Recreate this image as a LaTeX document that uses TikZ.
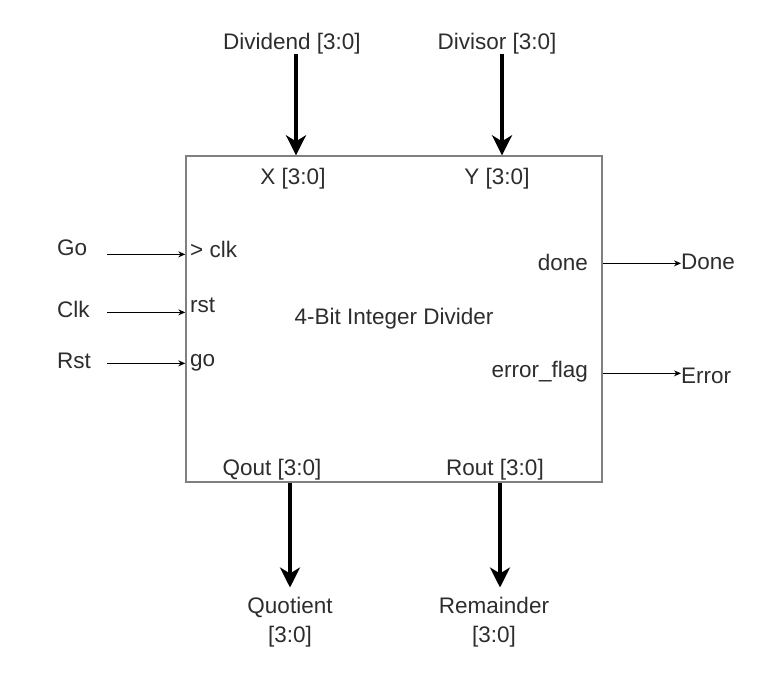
\documentclass[tikz,border=0pt]{standalone}
\usepackage{fontspec}
\setmainfont{Liberation Sans}
\usetikzlibrary{arrows.meta, positioning}
\definecolor{DG}{RGB}{45,45,45}
\definecolor{BG}{RGB}{128,128,128}

\begin{document}
\begin{tikzpicture}[x=1pt, y=-1pt,
  blk/.style={draw=BG, line width=1.4pt, minimum width=416pt,
              minimum height=326pt, inner sep=0pt},
  txt/.style={font=\fontsize{22.5}{29}\selectfont, text=DG,
              inner sep=0pt, align=center},
  bus/.style={-{Stealth[length=20pt,width=20pt,inset=6pt]},
              line width=4pt, draw=black},
  sig/.style={-{Stealth[length=7pt,width=6pt]}, line width=1.2pt, draw=black}
]
\useasboundingbox (0,0) rectangle (768,672);

\node[blk, txt] (div) at (394,319) {4-Bit Integer Divider};

% ports inside the block
\node[txt, anchor=base] (xp) at (293,184) {X [3:0]};
\node[txt, anchor=base] (yp) at (497,184) {Y [3:0]};
\node[txt, anchor=base west] (clkp) at (190,257) {> clk};
\node[txt, anchor=base west] (rstp) at (190,312) {rst};
\node[txt, anchor=base west] (gop)  at (190,366) {go};
\node[txt, anchor=base east] (donep) at (588,270) {done};
\node[txt, anchor=base east] (errp)  at (588,377) {error\_flag};
\node[txt, anchor=base] (qp) at (272,475) {Qout [3:0]};
\node[txt, anchor=base] (rp) at (495,475) {Rout [3:0]};

% outside signals
\node[txt, anchor=base] (dvd) at (292,49) {Dividend [3:0]};
\node[txt, anchor=base] (dvs) at (497,49) {Divisor [3:0]};
\node[txt, anchor=base west] (go)  at (57,255) {Go};
\node[txt, anchor=base west] (clk) at (57,317) {Clk};
\node[txt, anchor=base west] (rst) at (57,368) {Rst};
\node[txt, anchor=base west] (dn)  at (681,269) {Done};
\node[txt, anchor=base west] (er)  at (681,383) {Error};
\node[txt, anchor=base] (quo) at (290,642) {Quotient\\{}[3:0]};
\node[txt, anchor=base] (rem) at (494,642) {Remainder\\{}[3:0]};

\draw[bus] ([xshift=4pt]dvd.south) -- ([xshift=4pt]div.north -| dvd);
\draw[bus] ([xshift=5pt]dvs.south) -- ([xshift=5pt]div.north -| dvs);
\draw[bus] (div.south -| quo) -- ([yshift=9pt]quo.north);
\draw[bus] ([xshift=6pt]div.south -| rem) -- ([xshift=6pt,yshift=9pt]rem.north);

\draw[sig] ([xshift=20pt,yshift=-2pt]go.mid east) -- ([yshift=-2pt]div.west |- go.mid east);
\draw[sig] ([xshift=20pt,yshift=2pt]clk.mid east -| go.east) -- ([yshift=2pt]div.west |- clk.mid east);
\draw[sig] ([xshift=20pt,yshift=2pt]rst.mid east -| go.east) -- ([yshift=2pt]div.west |- rst.mid east);
\draw[sig] ([yshift=4pt]div.east |- donep.mid east) -- ([yshift=4pt]dn.west |- donep.mid east);
\draw[sig] ([yshift=1pt]div.east |- errp.mid east) -- ([yshift=1pt]er.west |- errp.mid east);
\end{tikzpicture}
\end{document}
